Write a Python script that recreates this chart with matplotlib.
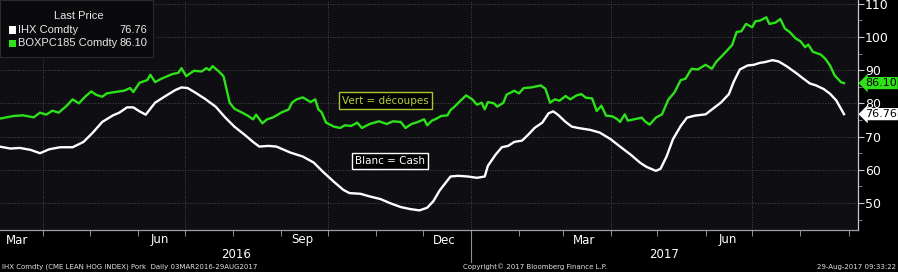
import matplotlib
matplotlib.use("Agg")
import matplotlib.pyplot as plt
import matplotlib.dates as mdates
import matplotlib.transforms as mtrans
from matplotlib.patches import Rectangle
import numpy as np
import pandas as pd

# ---------------- data (days since 2016-03-03, price) ----------------
START = "2016-03-03"

ihx_days = [1, 8, 14, 21, 27, 33, 40, 48, 55, 61, 67, 74, 78, 83, 87, 91, 95, 98,
            101, 107, 114, 118, 122, 127, 133, 140, 146, 152, 159, 164, 168, 174, 179, 184,
            188, 196, 203, 209, 216, 222, 226, 233, 239, 246, 252, 259, 265, 271, 276, 280, 284,
            291, 296, 302, 308, 313, 315, 320, 324, 328, 332, 337, 341, 345, 350, 354, 357, 360,
            365, 369, 373, 377, 381, 387, 394, 400, 407, 413, 417, 423, 426, 430, 434, 439, 443,
            448, 455, 460, 465, 470, 473, 477, 482, 486, 490, 493, 498, 502, 507, 513, 518, 522,
            526, 531, 535, 539, 544]
ihx_vals = [67.0, 66.4, 66.6, 66.0, 65.0, 66.2, 66.8, 66.8, 68.4, 71.2, 74.4, 76.4, 77.2, 78.8, 78.8, 77.6, 76.6, 78.4,
            80.2, 82.0, 84.0, 84.8, 84.6, 83.2, 81.4, 79.0, 75.8, 73.0, 70.4, 68.4, 67.0, 67.2, 67.0, 66.0,
            65.2, 64.0, 62.2, 59.4, 56.4, 54.0, 53.0, 52.8, 52.0, 51.2, 50.0, 48.8, 48.2, 47.8, 48.6, 50.6, 53.8,
            58.0, 58.2, 58.0, 57.6, 58.0, 61.2, 64.6, 66.8, 67.2, 68.4, 68.8, 70.6, 72.6, 74.2, 77.0, 77.6, 76.6,
            74.4, 73.0, 72.6, 72.3, 72.0, 71.2, 69.2, 67.0, 64.5, 62.1, 60.9, 59.7, 60.3, 64.1, 69.2, 73.2, 75.7,
            76.3, 76.7, 78.5, 80.3, 82.8, 86.4, 90.2, 91.4, 91.6, 92.2, 92.4, 93.0, 92.6, 91.2, 89.2, 87.4, 86.0,
            85.4, 84.3, 82.9, 80.9, 76.76]

box_days = [1, 10, 16, 23, 27, 31, 35, 39, 44, 48, 52, 56, 60, 63, 67, 70, 75, 81, 85, 87, 91, 96, 98,
            101, 105, 112, 116, 118, 121, 126, 131, 134, 136, 138, 142, 145, 147, 149, 152, 157, 161, 164,
            166, 170, 173, 177, 182, 187, 189, 192, 196, 201, 204, 206, 208, 211, 216, 220, 223, 227, 231,
            234, 239, 245, 250, 254, 259, 262, 266, 270, 274, 276, 279, 282, 285, 289, 291, 294, 297, 301,
            305, 308, 311, 313, 315, 319, 321, 325, 327, 332, 335, 338, 343, 349, 352, 355, 358, 361, 365,
            368, 372, 375, 378, 382, 385, 388, 391, 395, 398, 400, 403, 405, 410, 414, 416, 419, 423, 427,
            431, 435, 439, 442, 446, 450, 455, 459, 462, 465, 468, 472, 475, 478, 481, 485, 487, 490, 494,
            496, 500, 503, 506, 509, 513, 516, 519, 521, 524, 529, 532, 535, 538, 542, 544]
box_vals = [75.4, 76.2, 76.4, 75.8, 77.2, 76.6, 77.8, 77.2, 79.2, 81.2, 80.0, 82.0, 83.6, 82.6, 82.0, 83.0, 83.4, 83.8, 84.6, 83.4, 86.2, 87.0, 88.6,
            86.4, 87.4, 88.8, 89.2, 90.6, 88.2, 89.8, 89.6, 90.6, 90.0, 91.2, 89.6, 88.2, 84.2, 80.2, 78.4, 77.2, 76.2, 75.2,
            76.6, 74.0, 75.2, 75.8, 77.2, 78.2, 80.2, 81.2, 81.8, 80.4, 81.2, 78.2, 77.4, 74.2, 73.0, 72.6, 73.4, 73.2, 74.2,
            72.6, 73.8, 74.6, 73.8, 74.6, 74.4, 72.6, 73.8, 74.4, 75.2, 73.4, 74.8, 75.4, 76.2, 76.4, 78.0, 79.2, 80.6, 82.4,
            81.2, 79.6, 80.2, 78.2, 80.4, 80.0, 79.0, 80.2, 82.6, 83.8, 83.0, 84.6, 84.8, 85.4, 84.4, 80.2, 81.2, 80.8, 82.2,
            81.2, 82.4, 82.8, 81.7, 81.5, 77.7, 79.3, 76.3, 76.1, 75.3, 74.4, 76.7, 74.8, 75.3, 75.7, 74.6, 73.6, 75.7, 76.7,
            81.1, 83.3, 87.0, 87.4, 90.4, 90.2, 91.6, 90.4, 92.6, 94.0, 95.5, 97.5, 101.5, 101.7, 103.9, 102.9, 104.7, 104.9, 105.9,
            103.9, 104.3, 105.4, 102.5, 101.5, 99.5, 98.7, 96.9, 97.7, 95.5, 94.7, 93.4, 91.4, 88.4, 86.4, 86.10]

series_names = ["IHX Comdty", "BOXPC185 Comdty"]
last_prices = ["76.76", "86.10"]
month_labels = ["Mar", "Jun", "Sep", "Dec", "Mar", "Jun"]
month_label_dates = ["2016-03-15", "2016-06-15", "2016-09-15", "2016-12-15", "2017-03-15", "2017-06-15"]
year_labels = ["2016", "2017"]
year_label_dates = ["2016-08-03", "2017-05-05"]
y_ticks = [50, 60, 70, 80, 90, 100, 110]

# ---------------- figure ----------------
W, H = 898, 272
fig = plt.figure(figsize=(W / 100, H / 100), dpi=100, facecolor="black")
ax = fig.add_axes([0, 1 - 230 / H, 858 / W, 230 / H])
ax.set_facecolor("#0e0e13")

start = pd.Timestamp(START)
ihx_x = start + pd.to_timedelta(ihx_days, unit="D")
box_x = start + pd.to_timedelta(box_days, unit="D")

GREEN = "#2ee21a"
ax.plot(ihx_x, ihx_vals, color="white", lw=1.7, solid_joinstyle="round", zorder=3)
ax.plot(box_x, box_vals, color=GREEN, lw=1.7, solid_joinstyle="round", zorder=3)

ax.set_xlim(start + pd.Timedelta(days=1.3), start + pd.Timedelta(days=553))
ax.set_ylim(41.9, 111.1)

# y axis on the right
ax.yaxis.tick_right()
ax.set_yticks(y_ticks)
ax.set_yticks(np.arange(45, 111, 10), minor=True)
ax.tick_params(axis="y", which="major", direction="out", length=4, width=0.8,
               colors="#c8c8c8", labelsize=9, labelcolor="white", pad=1)
ax.tick_params(axis="y", which="minor", direction="out", length=3, width=0.6, colors="#909090")

# x axis
ax.xaxis.set_major_locator(mdates.MonthLocator(bymonth=[1, 4, 7, 10]))
ax.xaxis.set_minor_locator(mdates.MonthLocator())
ax.xaxis.set_major_formatter(plt.NullFormatter())
ax.tick_params(axis="x", which="both", direction="out", length=4, width=0.7, colors="#909090")

ax.grid(True, which="major", color="#5a5a5a", lw=0.6, ls=(0, (1, 2)))

for s in ["top", "left"]:
    ax.spines[s].set_visible(False)
ax.spines["right"].set_color("#c8c8c8")
ax.spines["bottom"].set_color("#a0a0a0")
ax.spines["right"].set_linewidth(0.9)
ax.spines["bottom"].set_linewidth(0.9)

# month and year labels
trans = mtrans.blended_transform_factory(ax.transData, fig.transFigure)
for lab, d in zip(month_labels, month_label_dates):
    ax.text(pd.Timestamp(d), 1 - 240 / H, lab, transform=trans, ha="center", va="center",
            color="white", fontsize=8.5, clip_on=False)
for lab, d in zip(year_labels, year_label_dates):
    ax.text(pd.Timestamp(d), 1 - 255 / H, lab, transform=trans, ha="center", va="center",
            color="white", fontsize=8.5, clip_on=False)
# year separator tick
ax.plot([pd.Timestamp("2017-01-01")] * 2, [1 - 230 / H, 1 - 262 / H], transform=trans,
        color="#909090", lw=0.8, clip_on=False)

# footer
fig.text(2 / W, 1 - 267 / H, "IHX Comdty (CME LEAN HOG INDEX) Pork  Daily 03MAR2016-29AUG2017",
         color="#e0e0e0", fontsize=5, ha="left", va="center")
fig.text(463 / W, 1 - 267 / H, "Copyright\u00a9 2017 Bloomberg Finance L.P.",
         color="#e0e0e0", fontsize=5, ha="left", va="center")
fig.text(896 / W, 1 - 267 / H, "29-Aug-2017 09:33:22",
         color="#e0e0e0", fontsize=5, ha="right", va="center")

# legend box
LFONT = ["Liberation Sans", "DejaVu Sans"]
ax.add_patch(Rectangle((0, 1 - 57 / 230), 153 / 858, 57 / 230, transform=ax.transAxes,
                       facecolor="#0a0a0d", edgecolor="#2c2c30", lw=0.8, zorder=4))
ax.text(79 / 858, 1 - 16 / 230, "Last Price", transform=ax.transAxes, color="#e8e8e8",
        fontsize=8, ha="center", va="center", zorder=5, family=LFONT)
for i, (nm, lp, c) in enumerate(zip(series_names, last_prices, ["white", GREEN])):
    yy = 1 - (30 + 13.5 * i) / 230
    ax.add_patch(Rectangle((9 / 858, yy - 3.5 / 230), 7 / 858, 7 / 230, transform=ax.transAxes,
                           facecolor=c, edgecolor="none", zorder=5))
    ax.text(18 / 858, yy, nm, transform=ax.transAxes, color="#e8e8e8", fontsize=8,
            ha="left", va="center", zorder=5, family=LFONT)
    ax.text(147 / 858, yy, lp, transform=ax.transAxes, color="#e8e8e8", fontsize=8,
            ha="right", va="center", zorder=5, family=LFONT)

# last value tags on the right axis
for val_list, lp, fc in [(ihx_vals, last_prices[0], "white"), (box_vals, last_prices[1], GREEN)]:
    ax.annotate(lp, xy=(1.0, val_list[-1]), xycoords=("axes fraction", "data"),
                xytext=(5, 0), textcoords="offset points", ha="left", va="center",
                fontsize=8, color="black", annotation_clip=False,
                bbox=dict(boxstyle="larrow,pad=0.1", fc=fc, ec="none"), zorder=6)

# annotation boxes
ax.text(pd.Timestamp("2016-11-07"), 80.9, "Vert = d\u00e9coupes", color="#b7d23a", fontsize=7.5,
        ha="center", va="center", zorder=5,
        bbox=dict(boxstyle="square,pad=0.3", fc="black", ec="#a8c832", lw=1.0))
ax.text(pd.Timestamp("2016-11-10"), 62.6, "Blanc = Cash", color="white", fontsize=7.5,
        ha="center", va="center", zorder=5,
        bbox=dict(boxstyle="square,pad=0.3", fc="black", ec="white", lw=1.0))

fig.savefig("out.png", dpi=100, facecolor="black")
